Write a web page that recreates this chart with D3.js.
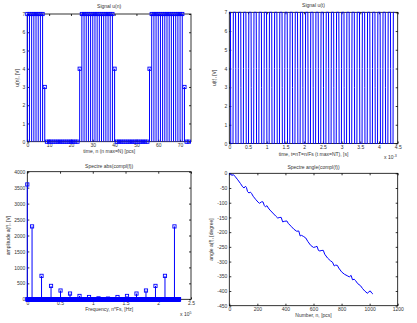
<!DOCTYPE html>
<html>
<head>
<meta charset="utf-8">
<script src="https://cdn.jsdelivr.net/npm/d3@7"></script>
<style>
  html, body { margin: 0; padding: 0; background: #fff; }
  svg { display: block; }
  text { font-family: "Liberation Sans", Arial, sans-serif; }
</style>
</head>
<body>
<svg id="fig" width="417" height="323"></svg>
<script>
// ---- signal samples u(n), first 75 samples (3-bit levels) ----
const uSamples = [
  7,7,7,7,7,7,7,7,3,
  0,0,0,0,0,0,0,0,0,0,0,0,0,0,0,
  4,
  7,7,7,7,7,7,7,7,7,7,7,7,7,7,7,
  4,
  0,0,0,0,0,0,0,0,0,0,0,0,0,0,0,
  4,
  7,7,7,7,7,7,7,7,7,7,7,7,7,7,7,
  3,
  0,0
];
// one repeating 64-sample cycle of the square wave (samples 8..71)
const uCycle = [
  3, 0,0,0,0,0,0,0,0,0,0,0,0,0,0,0,
  4, 7,7,7,7,7,7,7,7,7,7,7,7,7,7,7,
  4, 0,0,0,0,0,0,0,0,0,0,0,0,0,0,0,
  4, 7,7,7,7,7,7,7,7,7,7,7,7,7,7,7
];
const uLead = [7,7,7,7,7,7,7,7];
const recordLength = 1024;
const sampleRate = 2.32e5;   // Fs, Hz

// ---- amplitude spectrum: nonzero lines (harmonic order -> |X|) ----
const binsPerHarmonic = 32;
const harmonicOrder = [0, 1, 3, 5, 7, 9, 11, 13, 15, 17, 19, 21, 23, 25, 27, 29, 31];
const harmonicAmp   = [3600, 2285, 735, 420, 275, 180, 105, 72, 30, 22, 72, 105, 180, 275, 420, 735, 2285];

// ---- unwrapped phase of the spectrum, degrees ----
const phaseN = [0,10,20,25,30,40,60,80,95,105,115,122,130,140,150,158,170,190,205,215,230,240,250,258,268,278,290,310,330,345,360,370,380,395,410,420,440,460,480,495,505,515,530,545,560,580,600,615,625,635,645,660,670,680,700,720,735,748,758,770,780,800,820,840,855,868,878,890,900,915,935,950,965,985,995,1005,1015,1023];
const phaseDeg = [-3,-2,-8,-4,-5,-10,-22,-35,-46,-50,-44,-48,-62,-67,-64,-68,-78,-90,-98,-102,-97,-97,-110,-114,-110,-118,-125,-135,-145,-152,-150,-150,-165,-163,-162,-170,-180,-190,-197,-196,-213,-211,-215,-220,-232,-245,-252,-250,-248,-262,-264,-262,-262,-275,-288,-297,-302,-315,-312,-313,-322,-335,-343,-348,-352,-347,-362,-360,-365,-375,-382,-392,-400,-408,-402,-400,-407,-410];

// ---- tick values ----
const tlXTicks = [0,10,20,30,40,50,60,70];
const levelTicks = [0,1,2,3,4,5,6,7];
const trXTicks = [0,0.5,1,1.5,2,2.5,3,3.5,4,4.5];          // x 10^-3 s
const blXTicks = [0,0.5,1,1.5,2,2.5];                      // x 10^5 Hz
const blYTicks = [0,500,1000,1500,2000,2500,3000,3500,4000];
const brXTicks = [0,200,400,600,800,1000,1200];
const brYTicks = [-450,-400,-350,-300,-250,-200,-150,-100,-50,0];

const BLUE = "#0000ff";
const INK = "#333";
const FS = 5;
const svg = d3.select("#fig");

function frame(g, x, y, xTicks, yTicks, xFmt, yFmt) {
  const [x0, x1] = x.range();
  const [yb, yt] = y.range();
  g.append("rect")
    .attr("x", x0).attr("y", yt).attr("width", x1 - x0).attr("height", yb - yt)
    .attr("fill", "none").attr("stroke", "#000").attr("stroke-width", 0.8);
  const ax = (gen, tr, fmt, vals) => {
    const a = g.append("g").attr("transform", tr)
      .call(gen.tickValues(vals).tickSize(-2).tickPadding(2).tickFormat(fmt));
    a.select(".domain").remove();
    a.selectAll(".tick line").attr("stroke", "#000").attr("stroke-width", 0.8);
    a.selectAll("text").attr("font-size", FS).attr("fill", INK)
      .attr("font-family", "Liberation Sans, Arial, sans-serif");
    return a;
  };
  ax(d3.axisBottom(x), `translate(0,${yb})`, xFmt, xTicks);
  ax(d3.axisTop(x), `translate(0,${yt})`, () => "", xTicks);
  ax(d3.axisLeft(y), `translate(${x0},0)`, yFmt, yTicks);
  ax(d3.axisRight(y), `translate(${x1},0)`, () => "", yTicks);
}

function labels(g, box, title, xl, yl, xlY, ylX, titleY) {
  const cx = (box.left + box.right) / 2, cy = (box.top + box.bottom) / 2;
  g.append("text").attr("x", cx).attr("y", titleY).attr("text-anchor", "middle")
    .attr("font-size", FS).attr("fill", INK).text(title);
  g.append("text").attr("x", cx).attr("y", xlY).attr("text-anchor", "middle")
    .attr("font-size", FS).attr("fill", INK).text(xl);
  g.append("text").attr("transform", `translate(${ylX},${cy}) rotate(-90)`)
    .attr("text-anchor", "middle").attr("font-size", FS).attr("fill", INK).text(yl);
}

function exponent(g, x, y, sup) {
  const t = g.append("text").attr("x", x).attr("y", y).attr("font-size", FS).attr("fill", INK);
  t.append("tspan").text("x 10");
  t.append("tspan").attr("dy", -2.2).attr("font-size", 3.6).text(sup);
}

const fmtNum = d => String(d);

function stems(g, x, y, xs, vs) {
  g.append("g").selectAll("line").data(vs.map((v, i) => [xs[i], v])).join("line")
    .attr("x1", d => x(d[0])).attr("x2", d => x(d[0]))
    .attr("y1", y(0)).attr("y2", d => y(d[1]))
    .attr("stroke", BLUE).attr("stroke-width", 1);
}
function markers(g, x, y, xs, vs) {
  g.append("g").selectAll("rect").data(vs.map((v, i) => [xs[i], v])).join("rect")
    .attr("x", d => x(d[0]) - 1.6).attr("y", d => y(d[1]) - 1.6)
    .attr("width", 3.2).attr("height", 3.2)
    .attr("fill", "none").attr("stroke", BLUE).attr("stroke-width", 0.9);
}

// ---------- top-left: Signal u(n) ----------
{
  const box = { left: 27.3, right: 191, top: 14, bottom: 141.7 };
  const g = svg.append("g");
  const x = d3.scaleLinear().domain([0, 75]).range([box.left, box.right]);
  const y = d3.scaleLinear().domain([0, 7]).range([box.bottom, box.top]);
  frame(g, x, y, tlXTicks, levelTicks, fmtNum, fmtNum);
  const n = d3.range(uSamples.length);
  stems(g, x, y, n, uSamples);
  markers(g, x, y, n, uSamples);
  labels(g, box, "Signal u(n)", "time, n (n max=N) [pcs]", "u(n), [V]", 153, 19, 8);
}

// full record for u(t)
const uRecord = uLead.slice();
while (uRecord.length < recordLength) uRecord.push(uCycle[(uRecord.length - uLead.length) % uCycle.length]);

// ---------- top-right: Signal u(t) ----------
{
  const box = { left: 229.3, right: 397.7, top: 12.3, bottom: 143.5 };
  const g = svg.append("g");
  const x = d3.scaleLinear().domain([0, 4.5e-3]).range([box.left, box.right]);
  const y = d3.scaleLinear().domain([0, 7]).range([box.bottom, box.top]);
  frame(g, x, y, trXTicks.map(v => v * 1e-3), levelTicks, d => String(+(d * 1e3).toFixed(1)), fmtNum);
  const line = d3.line().x((d, i) => x(i / sampleRate)).y(d => y(d));
  g.append("path").datum(uRecord).attr("d", line)
    .attr("fill", "none").attr("stroke", BLUE).attr("stroke-width", 1);
  labels(g, box, "Signal u(t)", "time, t=nT=n/Fs (t max=NT), [s]", "u(t), [V]", 156, 216, 7);
  exponent(g, 384, 159, "-3");
}

// ---------- bottom-left: amplitude spectrum ----------
{
  const box = { left: 27.3, right: 191, top: 171.7, bottom: 299.3 };
  const g = svg.append("g");
  const x = d3.scaleLinear().domain([0, 2.5e5]).range([box.left, box.right]);
  const y = d3.scaleLinear().domain([0, 4000]).range([box.bottom, box.top]);
  frame(g, x, y, blXTicks.map(v => v * 1e5), blYTicks, d => String(+(d / 1e5).toFixed(1)), fmtNum);
  const amp = new Array(recordLength).fill(0);
  harmonicOrder.forEach((m, i) => { amp[m * binsPerHarmonic] = harmonicAmp[i]; });
  const f = d3.range(recordLength).map(k => k * sampleRate / recordLength);
  stems(g, x, y, f, amp);
  markers(g, x, y, f, amp);
  labels(g, box, "Spectre abs(compl(f))", "Frequency, n*Fs, [Hz]", "amplitude a(f), [V]", 311, 10, 168);
  exponent(g, 180, 316, "5");
}

// ---------- bottom-right: phase spectrum ----------
{
  const box = { left: 229.3, right: 397.7, top: 173.3, bottom: 305.7 };
  const g = svg.append("g");
  const x = d3.scaleLinear().domain([0, 1200]).range([box.left, box.right]);
  const y = d3.scaleLinear().domain([-450, 0]).range([box.bottom, box.top]);
  frame(g, x, y, brXTicks, brYTicks, fmtNum, fmtNum);
  const line = d3.line().x((d, i) => x(phaseN[i])).y(d => y(d));
  g.append("path").datum(phaseDeg).attr("d", line)
    .attr("fill", "none").attr("stroke", BLUE).attr("stroke-width", 1);
  labels(g, box, "Spectre angle(compl(f))", "Number, n, [pcs]", "angle a(f), [degree]", 317, 213, 169);
}
</script>
</body>
</html>
